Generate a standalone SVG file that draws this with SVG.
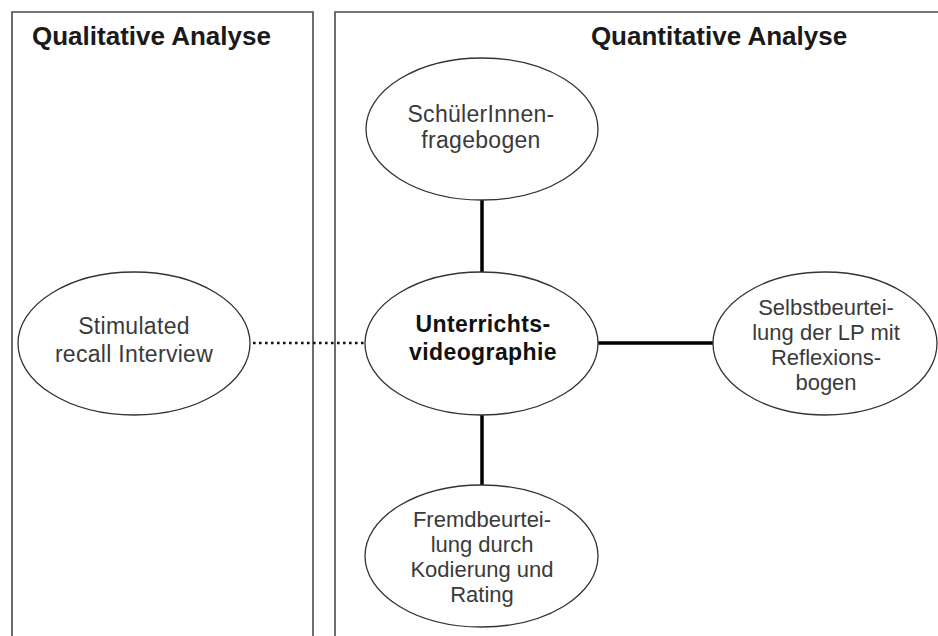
<svg xmlns="http://www.w3.org/2000/svg" width="938" height="636" viewBox="0 0 938 636">
<style>
.box{fill:none;stroke:#4a4a4a;stroke-width:1.6}
.title{font-family:"Liberation Sans",Arial,sans-serif;font-weight:bold;font-size:26px;fill:#1a1a1a}
.node ellipse{fill:#fff;stroke:#333;stroke-width:1.3}
.lbl{font-family:"Liberation Sans",Arial,sans-serif;font-size:23px;letter-spacing:0.3px;fill:#3a3a3a;text-anchor:middle}
.sm{font-size:22px;letter-spacing:0}
.bold{font-weight:bold;fill:#111;letter-spacing:0.4px}
.solid{stroke:#000;stroke-width:3.5;fill:none}
.dot{stroke:#111;stroke-width:2.6;stroke-dasharray:2.6 3.4;fill:none}
</style>
<rect width="938" height="636" fill="#fff"/>
<g id="panel-qualitative">
<polyline class="box" points="12,640 12,12 313,12 313,640"/>
<text class="title" x="32" y="45">Qualitative Analyse</text>
</g>
<g id="panel-quantitative">
<polyline class="box" points="335,640 335,12 942,12"/>
<text class="title" x="719" y="45" text-anchor="middle">Quantitative Analyse</text>
</g>
<g id="connectors">
<line class="solid" x1="482" y1="200" x2="482" y2="272"/>
<line class="solid" x1="598" y1="343" x2="713" y2="343"/>
<line class="solid" x1="482" y1="415" x2="482" y2="485"/>
<line class="dot" x1="253" y1="343" x2="365" y2="343"/>
</g>
<g id="node-schueler" class="node">
<ellipse cx="482" cy="129" rx="116" ry="71"/>
<text class="lbl" x="481" y="122">SchülerInnen-</text>
<text class="lbl" x="481" y="148">fragebogen</text>
</g>
<g id="node-stimulated" class="node">
<ellipse cx="134" cy="343.5" rx="116" ry="71.5"/>
<text class="lbl" x="134" y="334">Stimulated</text>
<text class="lbl" x="134" y="362">recall Interview</text>
</g>
<g id="node-unterricht" class="node">
<ellipse cx="481.5" cy="343.5" rx="116.5" ry="71.5"/>
<text class="lbl bold" x="483" y="332">Unterrichts-</text>
<text class="lbl bold" x="483" y="360">videographie</text>
</g>
<g id="node-selbst" class="node">
<ellipse cx="825" cy="343.5" rx="112" ry="71.5"/>
<text class="lbl sm" x="826" y="315">Selbstbeurtei-</text>
<text class="lbl sm" x="826" y="340">lung der LP mit</text>
<text class="lbl sm" x="826" y="365">Reflexions-</text>
<text class="lbl sm" x="826" y="390">bogen</text>
</g>
<g id="node-fremd" class="node">
<ellipse cx="481.5" cy="556" rx="116.5" ry="71"/>
<text class="lbl sm" x="482" y="527">Fremdbeurtei-</text>
<text class="lbl sm" x="482" y="552">lung durch</text>
<text class="lbl sm" x="482" y="577">Kodierung und</text>
<text class="lbl sm" x="482" y="602">Rating</text>
</g>
</svg>
